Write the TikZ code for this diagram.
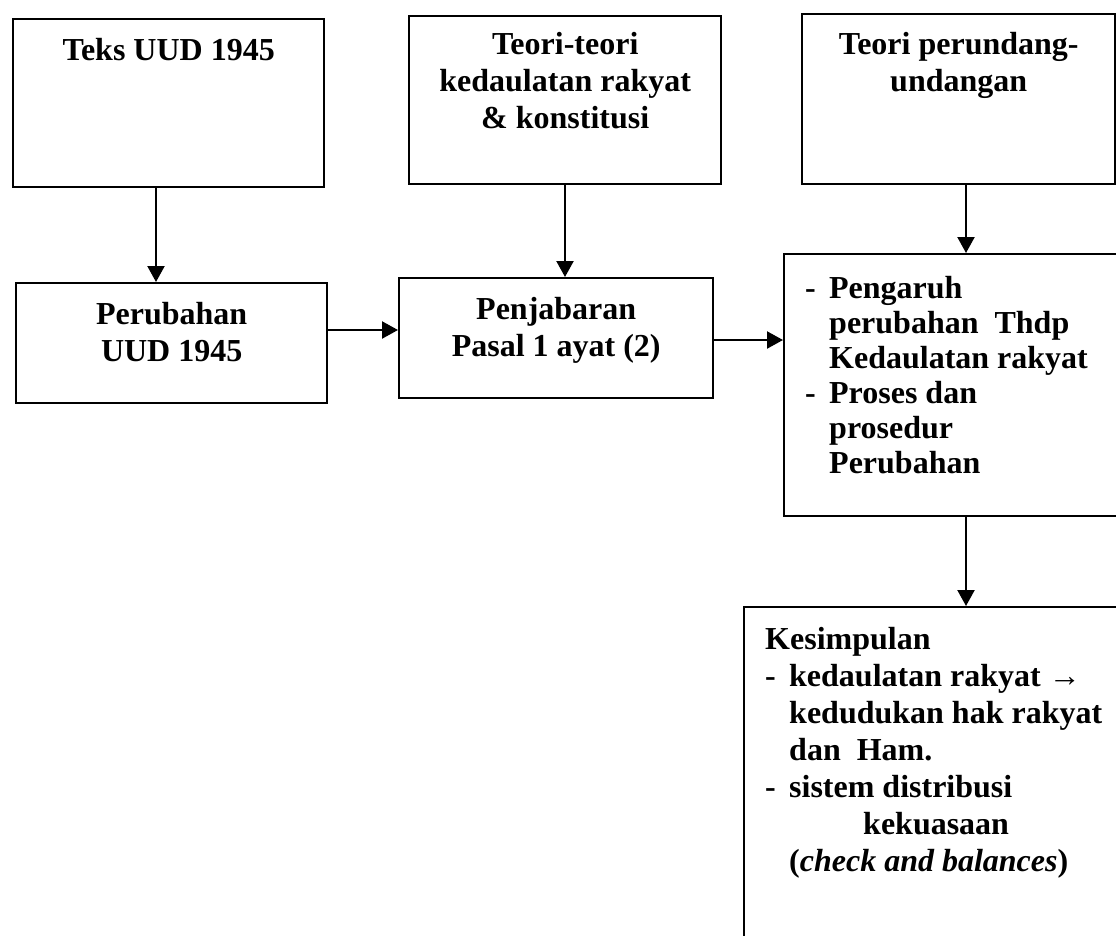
\documentclass[tikz,border=0pt]{standalone}
\usepackage{fontspec}
\setmainfont{Liberation Serif}
\usetikzlibrary{positioning,arrows.meta}
\tikzset{
  box/.style={draw, line width=2.4pt, inner sep=0pt, anchor=north west},
  txt/.style={inner sep=0pt, align=center, font=\fontsize{32}{37}\selectfont\bfseries},
  link/.style={->, line width=2.2pt},
}
\newcommand{\itemdash}{\makebox[24pt][l]{-}}
\newcommand{\itemgap}{\hspace*{24pt}}
\begin{document}
\begin{tikzpicture}[x=1pt, y=-1pt, >={Triangle[length=16pt,width=17pt]}]
\clip (0,0) rectangle (1116,935);
% boxes
\node[box, minimum width=311pt, minimum height=168pt] (teks) at (12,18) {};
\node[box, minimum width=311pt, minimum height=120pt] (ubah) at (15,282) {};
\node[box, minimum width=312pt, minimum height=168pt] (teori) at (408,15) {};
\node[box, minimum width=314pt, minimum height=120pt] (jabar) at (398,277) {};
\node[box, minimum width=313pt, minimum height=170pt] (uu) at (801,13) {};
\node[box, minimum width=360pt, minimum height=262pt] (pengaruh) at (783,253) {};
\node[box, minimum width=400pt, minimum height=360pt] (simpul) at (743,606) {};

% texts
\node[txt, below=20pt of teks.north] (teksT) {Teks UUD 1945};
\node[txt, below=20pt of ubah.north] (ubahT) {Perubahan\\UUD 1945};
\node[txt, below=17pt of teori.north] (teoriT) {Teori-teori\\kedaulatan rakyat\\\& konstitusi};
\node[txt, below=20pt of jabar.north] (jabarT) {Penjabaran\\Pasal 1 ayat (2)};
\node[txt, below=19pt of uu.north] (uuT) {Teori perundang-\\undangan};
\node[txt, align=left, font=\fontsize{32}{35}\selectfont\bfseries,
  below right=23pt and 22pt of pengaruh.north west] (pengaruhT)
  {\itemdash Pengaruh\\ \itemgap perubahan~ Thdp\\ \itemgap Kedaulatan rakyat\\
   \itemdash Proses dan\\ \itemgap prosedur\\ \itemgap Perubahan};
\node[txt, align=left, below right=21pt and 22pt of simpul.north west] (simpulT)
  {Kesimpulan\\ \itemdash kedaulatan rakyat →\\ \itemgap kedudukan hak rakyat\\
   \itemgap dan~ Ham.\\ \itemdash sistem distribusi\\ \hspace*{98pt}kekuasaan\\
   \itemgap (\textit{check and balances})};

% arrows
\draw[link] (teks.south -| 156,0) -- (ubah.north -| 156,0);
\draw[link] (teori.south -| 565,0) -- (jabar.north -| 565,0);
\draw[link] (uu.south -| 966,0) -- (pengaruh.north -| 966,0);
\draw[link] (pengaruh.south -| 966,0) -- (simpul.north -| 966,0);
\draw[link] (ubah.east |- 0,330) -- (jabar.west |- 0,330);
\draw[link] (jabar.east |- 0,340) -- (pengaruh.west |- 0,340);
\end{tikzpicture}
\end{document}
